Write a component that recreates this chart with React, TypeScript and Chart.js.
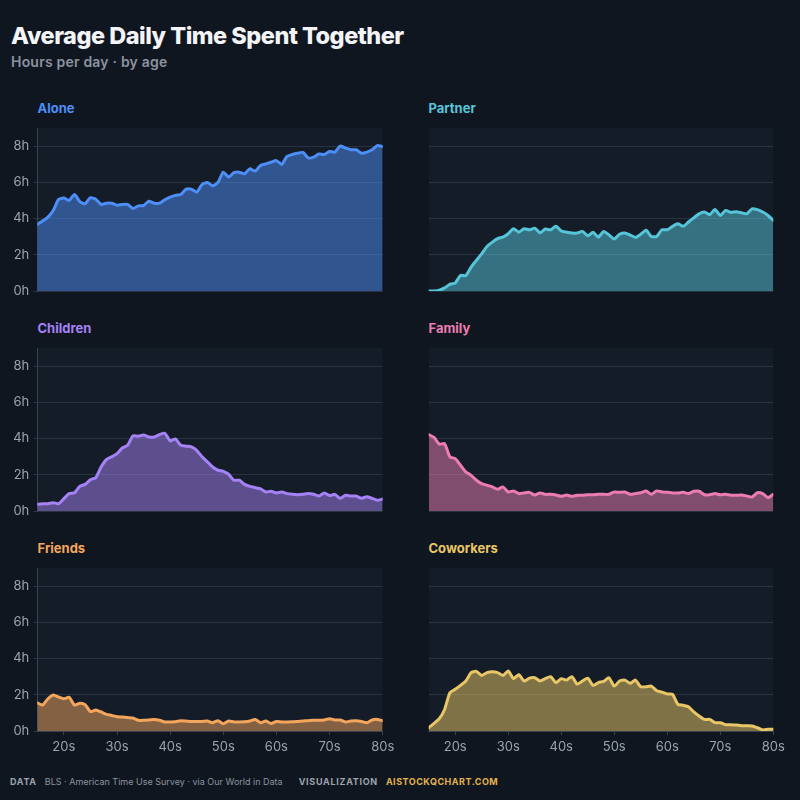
import React, { useEffect, useRef } from "react";
import { Chart, registerables } from "chart.js";

Chart.register(...registerables);

// ---------- data ----------
const AGES = [
  15, 16, 17, 18, 19, 20, 21, 22, 23, 24, 25, 26, 27, 28, 29, 30, 31, 32, 33, 34, 35, 36,
  37, 38, 39, 40, 41, 42, 43, 44, 45, 46, 47, 48, 49, 50, 51, 52, 53, 54, 55, 56, 57, 58,
  59, 60, 61, 62, 63, 64, 65, 66, 67, 68, 69, 70, 71, 72, 73, 74, 75, 76, 77, 78, 79, 80,
];

const ALONE = [
  3.68, 3.86, 4.08, 4.45, 5.05, 5.13, 5.0, 5.33, 4.94, 4.82, 5.15, 5.07, 4.78, 4.85, 4.85,
  4.74, 4.78, 4.78, 4.56, 4.7, 4.72, 4.96, 4.85, 4.85, 5.04, 5.18, 5.28, 5.33, 5.62, 5.62,
  5.46, 5.88, 5.99, 5.81, 6.0, 6.56, 6.29, 6.53, 6.56, 6.47, 6.75, 6.62, 6.93, 7.02, 7.11,
  7.2, 6.99, 7.43, 7.54, 7.61, 7.65, 7.35, 7.39, 7.57, 7.54, 7.7, 7.67, 8.0, 7.89, 7.8,
  7.8, 7.61, 7.67, 7.8, 8.03, 7.98,
];

const PARTNER = [
  0.0, 0.0, 0.04, 0.17, 0.37, 0.44, 0.86, 0.85, 1.32, 1.69, 2.06, 2.46, 2.7, 2.89, 2.98,
  3.16, 3.44, 3.25, 3.44, 3.38, 3.47, 3.22, 3.42, 3.38, 3.58, 3.31, 3.25, 3.2, 3.2, 3.29,
  3.05, 3.24, 2.98, 3.29, 3.1, 2.87, 3.13, 3.2, 3.09, 2.96, 3.13, 3.35, 3.01, 3.01, 3.38,
  3.38, 3.57, 3.71, 3.57, 3.81, 4.04, 4.26, 4.36, 4.21, 4.5, 4.17, 4.45, 4.34, 4.38, 4.32,
  4.26, 4.54, 4.49, 4.36, 4.17, 3.9,
];

const CHILDREN = [
  0.37, 0.4, 0.4, 0.46, 0.4, 0.68, 0.96, 1.01, 1.36, 1.47, 1.73, 1.84, 2.43, 2.84, 2.99,
  3.17, 3.48, 3.63, 4.15, 4.13, 4.2, 4.09, 4.09, 4.22, 4.29, 3.87, 3.98, 3.63, 3.58, 3.54,
  3.35, 2.99, 2.71, 2.43, 2.25, 2.19, 2.03, 1.7, 1.7, 1.47, 1.36, 1.29, 1.22, 1.05, 1.09,
  1.0, 1.05, 0.96, 0.92, 0.9, 0.92, 0.96, 0.92, 0.83, 1.0, 0.85, 0.92, 0.7, 0.87, 0.83,
  0.83, 0.7, 0.79, 0.7, 0.59, 0.66,
];

const FAMILY = [
  4.22, 4.06, 3.69, 3.72, 2.99, 2.89, 2.53, 2.16, 1.97, 1.7, 1.51, 1.42, 1.33, 1.2, 1.33,
  1.05, 1.11, 0.96, 1.0, 1.03, 0.88, 1.0, 0.92, 0.92, 0.88, 0.81, 0.88, 0.81, 0.87, 0.87,
  0.9, 0.9, 0.92, 0.92, 0.92, 1.05, 1.03, 1.05, 0.92, 0.96, 1.01, 1.11, 0.92, 1.11, 1.05,
  1.03, 1.0, 1.0, 1.03, 0.96, 1.09, 1.09, 0.9, 0.9, 0.96, 0.9, 0.92, 0.87, 0.87, 0.88,
  0.83, 0.77, 1.01, 0.96, 0.74, 0.92,
];

const FRIENDS = [
  1.56, 1.43, 1.78, 1.99, 1.88, 1.78, 1.86, 1.43, 1.53, 1.45, 1.07, 1.16, 1.05, 0.92, 0.86,
  0.79, 0.77, 0.74, 0.72, 0.59, 0.59, 0.61, 0.64, 0.59, 0.5, 0.5, 0.51, 0.57, 0.55, 0.53,
  0.53, 0.53, 0.55, 0.46, 0.57, 0.4, 0.55, 0.5, 0.5, 0.51, 0.55, 0.64, 0.46, 0.55, 0.42,
  0.53, 0.5, 0.5, 0.51, 0.53, 0.55, 0.57, 0.59, 0.59, 0.61, 0.68, 0.61, 0.61, 0.5, 0.55,
  0.57, 0.53, 0.46, 0.61, 0.64, 0.57,
];

const COWORKERS = [
  0.18, 0.42, 0.68, 1.19, 2.11, 2.3, 2.52, 2.76, 3.22, 3.29, 3.07, 3.22, 3.27, 3.22, 3.07,
  3.31, 2.89, 3.11, 2.76, 2.92, 2.94, 2.76, 2.89, 3.0, 2.67, 2.89, 2.81, 3.0, 2.59, 2.76,
  2.92, 2.52, 2.67, 2.74, 2.94, 2.48, 2.76, 2.81, 2.63, 2.81, 2.44, 2.44, 2.48, 2.22, 2.15,
  2.04, 2.02, 1.47, 1.42, 1.34, 1.05, 0.83, 0.64, 0.64, 0.46, 0.46, 0.35, 0.35, 0.33, 0.29,
  0.29, 0.28, 0.18, 0.06, 0.09, 0.09,
];

const SERIES_NAMES = ["Alone", "Partner", "Children", "Family", "Friends", "Coworkers"];
const SERIES_VALUES = [ALONE, PARTNER, CHILDREN, FAMILY, FRIENDS, COWORKERS];
const SERIES_COLORS = ["#4d8ef7", "#56c5d9", "#a582f6", "#ec7db2", "#f4a65d", "#e9c767"];

const X_TICKS = [20, 30, 40, 50, 60, 70, 80];
const X_TICK_LABELS = ["20s", "30s", "40s", "50s", "60s", "70s", "80s"];
const Y_TICKS = [0, 2, 4, 6, 8];
const Y_TICK_LABELS = ["0h", "2h", "4h", "6h", "8h"];

// ---------- styles ----------
const BG = "#10161f";
const PLOT_BG = "#141c27";
const GRID = "#29323f";
const AXIS = "#3a4350";
const TICK = "#9aa3ae";
const FONT = "Inter, 'Noto Sans', sans-serif";

function rgba(hex: string, a: number) {
  const n = parseInt(hex.slice(1), 16);
  return `rgba(${(n >> 16) & 255},${(n >> 8) & 255},${n & 255},${a})`;
}

const plotBgPlugin = {
  id: "plotBg",
  beforeDraw(chart: any) {
    const { ctx, chartArea } = chart;
    if (!chartArea) return;
    ctx.save();
    ctx.fillStyle = PLOT_BG;
    ctx.fillRect(chartArea.left, chartArea.top, chartArea.right - chartArea.left, chartArea.bottom - chartArea.top);
    ctx.restore();
  },
};

const PAD = 16;
const PLOT_H = 163;
const X_AXIS_H = 30;
const ROW_TOPS = [128, 348, 568];

function Panel({ index }: { index: number }) {
  const ref = useRef<HTMLCanvasElement>(null);
  const col = index % 2;
  const row = Math.floor(index / 2);
  const isBottom = row === 2;
  const left = col === 0 ? 0 : 400;
  const plotTop = ROW_TOPS[row];
  const canvasTop = plotTop - PAD;
  const canvasH = PAD + PLOT_H + (isBottom ? X_AXIS_H : PAD);
  const yW = col === 0 ? 37.3 : 28.7;
  const padRight = col === 0 ? 17.3 : 26.7;
  const color = SERIES_COLORS[index];
  const values = SERIES_VALUES[index];

  useEffect(() => {
    if (!ref.current) return;
    const chart = new Chart(ref.current, {
      type: "line",
      data: {
        datasets: [
          {
            data: AGES.map((a, i) => ({ x: a, y: values[i] })),
            borderColor: color,
            backgroundColor: rgba(color, 0.5),
            fill: "origin",
            borderWidth: 3,
            pointRadius: 0,
            tension: 0.2,
            borderJoinStyle: "round",
            borderCapStyle: "round",
          },
        ],
      },
      options: {
        responsive: false,
        animation: false,
        layout: { padding: { top: PAD, bottom: isBottom ? 0 : PAD, left: 0, right: padRight } },
        plugins: { legend: { display: false }, tooltip: { enabled: false } },
        scales: {
          x: {
            type: "linear",
            min: 15,
            max: 80,
            display: isBottom,
            afterBuildTicks: (s: any) => {
              s.ticks = X_TICKS.map((v) => ({ value: v }));
            },
            afterFit: (s: any) => {
              s.height = isBottom ? X_AXIS_H : 0;
            },
            grid: { drawOnChartArea: false, drawTicks: true, tickLength: 4, color: AXIS },
            border: { display: true, color: AXIS, width: 1 },
            ticks: {
              color: TICK,
              font: { family: FONT, size: 13 },
              padding: 4,
              maxRotation: 0,
              autoSkip: false,
              callback: (_v: any, i: number) => X_TICK_LABELS[i],
            },
          },
          y: {
            type: "linear",
            min: 0,
            max: 9,
            afterBuildTicks: (s: any) => {
              s.ticks = Y_TICKS.map((v) => ({ value: v }));
            },
            afterFit: (s: any) => {
              s.width = yW;
            },
            grid: { color: GRID, tickLength: 4, drawTicks: col === 0, tickColor: GRID },
            border: { display: col === 0, color: AXIS, width: 1 },
            ticks: {
              display: col === 0,
              color: TICK,
              font: { family: FONT, size: 13 },
              padding: 4,
              callback: (_v: any, i: number) => Y_TICK_LABELS[i],
            },
          },
        },
      } as any,
      plugins: [plotBgPlugin],
    });
    return () => chart.destroy();
  }, []);

  const titleLeft = col === 0 ? 37.5 : 428.5;
  return (
    <>
      <div
        style={{
          position: "absolute",
          left: titleLeft,
          top: plotTop - 26,
          font: `700 13px ${FONT}`,
          lineHeight: "13px",
          color,
          whiteSpace: "nowrap",
        }}
      >
        {SERIES_NAMES[index]}
      </div>
      <canvas
        ref={ref}
        width={400}
        height={canvasH}
        style={{ position: "absolute", left, top: canvasTop, width: 400, height: canvasH, display: "block" }}
      />
    </>
  );
}

export default function App() {
  return (
    <div
      style={{
        position: "absolute",
        left: 0,
        top: 0,
        width: 800,
        height: 800,
        background: BG,
        overflow: "hidden",
        fontFamily: FONT,
      }}
    >
      <div
        style={{
          position: "absolute",
          left: 11,
          top: 24,
          font: `800 23.5px ${FONT}`,
          lineHeight: "23.5px",
          letterSpacing: "-0.5px",
          color: "#f2f4f7",
          whiteSpace: "nowrap",
        }}
      >
        Average Daily Time Spent Together
      </div>
      <div
        style={{
          position: "absolute",
          left: 11,
          top: 55,
          font: `600 14px ${FONT}`,
          lineHeight: "14px",
          letterSpacing: "0.2px",
          color: "#8a939f",
          whiteSpace: "nowrap",
        }}
      >
        Hours per day · by age
      </div>
      {SERIES_NAMES.map((_, i) => (
        <Panel key={i} index={i} />
      ))}
      <div
        style={{
          position: "absolute",
          left: 10,
          top: 777,
          fontSize: 9,
          lineHeight: "10px",
          whiteSpace: "nowrap",
          display: "flex",
          alignItems: "baseline",
        }}
      >
        <span style={{ fontWeight: 700, letterSpacing: "0.7px", color: "#9ba3ae" }}>DATA</span>
        <span style={{ marginLeft: 8, color: "#8a939f" }}>BLS · American Time Use Survey · via Our World in Data</span>
        <span style={{ marginLeft: 16, fontWeight: 700, letterSpacing: "0.7px", color: "#9ba3ae" }}>VISUALIZATION</span>
        <span style={{ marginLeft: 8, fontWeight: 700, letterSpacing: "0.5px", color: "#e2b24e" }}>AISTOCKQCHART.COM</span>
      </div>
    </div>
  );
}
